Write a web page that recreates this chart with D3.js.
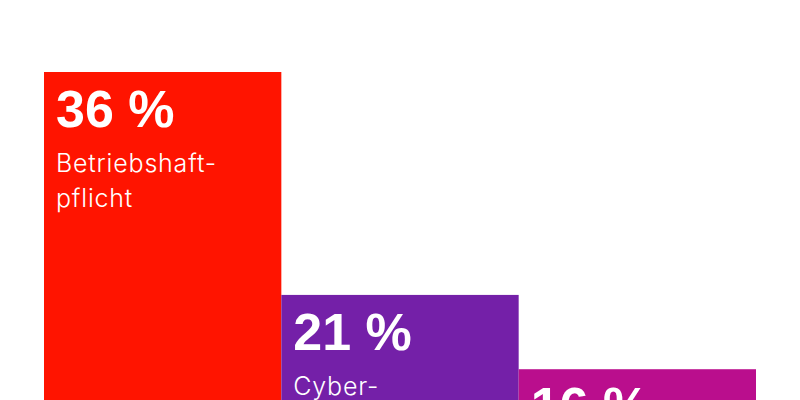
<!DOCTYPE html>
<html>
<head>
<meta charset="utf-8">
<script src="https://cdn.jsdelivr.net/npm/d3@7"></script>
<style>
  html, body { margin: 0; padding: 0; background: #fff; }
  svg { display: block; }
</style>
</head>
<body>
<svg id="chart"></svg>
<script>
// data
const categories = ['Betriebshaftpflicht', 'Cyber', 'Dritte'];
const values = [36, 21, 16];
const valueLabels = ['36 %', '21 %', '16 %'];
const nameLines = [['Betriebshaft-', 'pflicht'], ['Cyber-'], []];
const colors = ['#ff1400', '#7420a8', '#ba0e8d'];

const width = 800;
const height = 400;

const svg = d3.select('#chart')
  .attr('width', width)
  .attr('height', height);

// x
const xScale = d3.scaleBand()
  .domain(categories)
  .range([44, 756])
  .padding(0);

// y (zero line sits below the visible area)
const yScale = d3.scaleLinear()
  .domain([0, 36])
  .range([607, 72]);

const bars = svg.selectAll('g.bar')
  .data(categories)
  .enter()
  .append('g')
  .attr('class', 'bar');

bars.append('rect')
  .attr('x', d => xScale(d))
  .attr('y', (d, i) => yScale(values[i]))
  .attr('width', xScale.bandwidth())
  .attr('height', (d, i) => yScale(0) - yScale(values[i]))
  .style('fill', (d, i) => colors[i]);

// value
bars.append('text')
  .attr('x', d => xScale(d) + 12)
  .attr('y', (d, i) => yScale(values[i]) + 55)
  .style('font-family', '"Liberation Sans", Arial, sans-serif')
  .style('font-weight', 'bold')
  .style('font-size', '52px')
  .style('fill', '#fff')
  .text((d, i) => valueLabels[i]);

// name
bars.each(function (d, i) {
  const g = d3.select(this);
  nameLines[i].forEach((line, j) => {
    g.append('text')
      .attr('x', xScale(d) + 12)
      .attr('y', yScale(values[i]) + 100 + j * 35)
      .style('font-family', 'Inter, Roboto, sans-serif')
      .style('font-weight', 300)
      .style('font-size', '25px')
      .style('letter-spacing', '0.8px')
      .style('fill', '#fff')
      .text(line);
  });
});
</script>
</body>
</html>
